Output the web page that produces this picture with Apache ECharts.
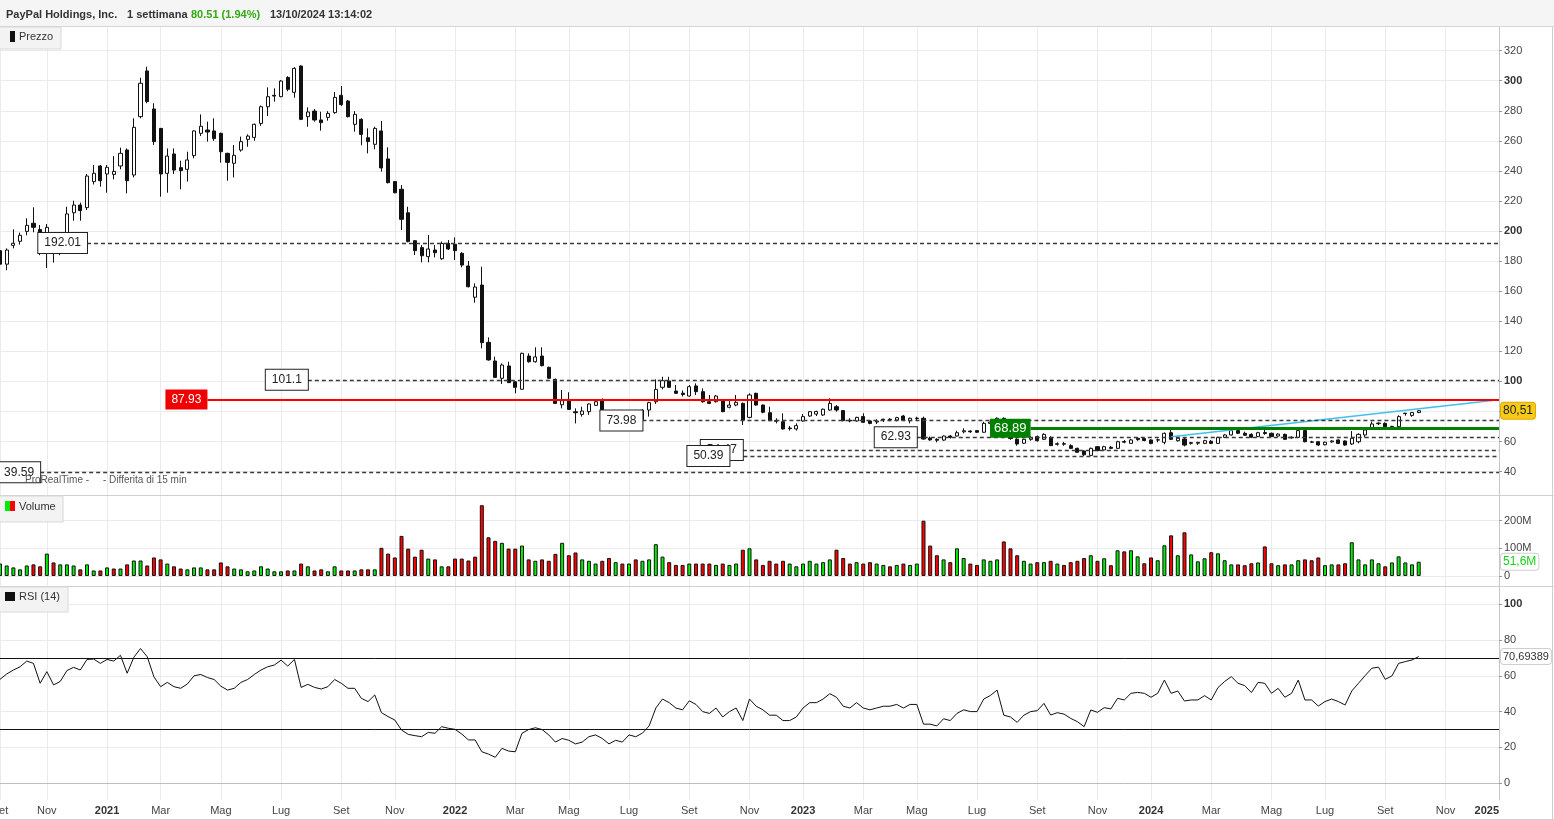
<!DOCTYPE html>
<html><head><meta charset="utf-8">
<script src="https://cdn.jsdelivr.net/npm/echarts@6/dist/echarts.min.js"></script>
<style>html,body{margin:0;padding:0;background:#fff}#c{width:1554px;height:820px}</style>
</head><body><div id="c"></div>
<script>
// ---------- DATA ----------
const firstWeek = '2020-09-14';   // first weekly bar (Monday)
const weekCount = 225;            // weekly slots on the axis (to 30 Dec 2024)

// weekly candles [open, close, low, high]
const candles = [
// 2020 (idx 0-15)
[187,178,176,190],[178,187.4,174,188.5],[190.5,191.9,188.5,201.2],[193.2,197.2,191,199],[199.8,203.8,197.2,208.5],
[205.2,202.5,199.2,215.8],[201,186.1,184,204],[188,202.5,175.5,204.7],[197,186.5,179,198],[187,192,184,195],
[193,211.4,192,216.2],[212.2,217.3,206.9,220.2],[217.3,213.6,206.9,218.9],[215.6,236.6,214,238],[232.9,238.4,231,243.9],
[243.3,233.5,229.5,244],
// 2021 (idx 16-67)
[238,242.4,225.5,243.9],[237.7,239.7,234.4,249.9],[243.3,251.7,241.1,255.5],[253.9,233.5,225.1,255],
[237.3,269,235.7,275],[276.1,298.3,275,302],[306.5,286.1,285,309.3],[281.2,259.5,257.3,285],
[268.3,238,222.9,268.5],[238.4,249.9,225.5,255],[251.3,240.6,238,255],[242.2,240.2,227.8,246.8],[241.1,247.3,232.9,252.8],
[250.2,266.6,248.4,267],[265,269.7,263.2,277.6],[267.2,265.9,259.5,272.8],[266.6,261.5,260,275],
[265,252.8,245.5,265.5],[251.7,245.7,233.5,252.1],[245.1,250.4,235.7,257.2],[253.9,259.5,252.8,262.8],
[261,263.2,256.1,264.3],[262.3,271,260.1,271.5],[271.6,282.7,270,283.5],[282.7,289.4,276.5,295.6],[290.3,289.8,286.1,294.9],
[289.4,299.8,289,300.5],[302.2,294.3,293,303],[292.3,308.2,288.7,309],[309.8,274.3,273.8,310.2],
[276.1,279.2,269.4,282.3],[279.8,273.9,272.8,281.2],[273.9,272.1,266.8,279.4],[275.6,278.3,273.4,279.8],
[278.8,288.9,278,292.5],[290.3,284.1,283.2,296.5],[286.5,276.1,275.6,287.2],[271,277.6,266.1,279.8],[274.3,264.3,257,275],
[262.1,259.5,251.7,268.3],[257.7,268.3,254.4,269.4],[266.6,242,239.5,273.2],[248,232.2,231.7,255.7],
[232.9,225.5,225.1,233.3],[227.8,207.8,200.7,230.6],[212.2,193,192.5,216.2],[193.6,187,184.1,194],
[189,183.6,179.2,190.7],[183,188.1,179.2,197.4],[187.4,185.6,182.5,190.7],[181.6,191.8,180.8,193],[191.8,188.1,187.4,194],
// 2022 (idx 68-119)
[191.2,187,180.8,195.8],[185.2,177.4,175.9,186],[176.8,163,162.5,180.1],[156,162.8,152.4,165.2],
[164.1,125.8,122,176.3],[126,114.3,113.8,129.3],[113.6,102.7,102.5,116.5],[102.1,110.9,98.3,112],
[110.3,99.2,99,113.1],[99.8,96.1,92.1,100],[94.8,118.7,94.5,119.1],[116.9,113.1,112.5,118.7],[113.1,116.3,112.5,122.7],
[116.9,110.5,110,122.7],[109.4,102.1,101.8,109.8],[101.4,85.4,85,101.9],[84.5,87.2,82.1,94.3],
[87.2,81.4,81,92.8],[79.8,79.2,72.1,82.1],[78.1,80.3,76.6,83.2],[79.9,85,77.7,85.3],[84.1,86.5,83.7,87.2],
[87.2,78.8,78.5,88.7],[78.8,72,70,79.8],[72,75.5,70.5,77],[75.5,71.3,69.5,77],
[71.3,77.3,70.5,78.5],[77.3,74.5,73,79],[80.8,74.8,74,81.5],[81,85.9,76.6,86.5],
[86.5,94.7,85,101.4],[96.1,100.5,94.7,103.1],[100.3,96.1,95.8,103.1],[93.6,92.1,91.8,97.6],[92.2,91.3,90,94],
[90.3,96.5,89.9,97.6],[97,93.2,91,98.7],[93.2,86.5,85.9,95.4],[86.5,85.4,84.9,91],
[86.5,90.3,86,91],[87.7,79.9,79.5,88],[82.8,84.3,82.1,87],[84.3,86.1,83.5,91],
[85.4,74.3,71,86],[76.1,91,75.5,92.1],[92.1,84.3,83.9,92.5],[84.3,79.5,78.8,84.6],
[79.2,73.9,73.6,83.2],[74,73.5,72.1,75.5],[73.2,68.4,68,78.8],[69,68.6,67.3,70.4],[68.4,70.6,67.3,72.1],
// 2023 (idx 120-171)
[73.7,76.6,73.2,78.3],[77,79.9,76.6,80.3],[78.3,80,77,80.5],[77.7,81.5,77,82],
[81,85.4,80.5,88.8],[83.2,81,79.9,84.3],[80.6,73.9,73.5,81],[74.2,73.7,72.8,75.5],
[73.7,76.1,73.2,76.5],[76.6,72.8,72.5,78.8],[73.7,72.1,71.5,74.2],[73,73.6,71.7,74.8],
[74.5,74.9,73,75.2],[74.9,74.6,73.5,75.5],[74.3,75.9,73.5,76.5],[77,74.3,73.9,77.7],[73.9,75.5,72.1,76],
[75.3,75.6,74,76.5],[75.5,61.7,61.2,76.6],[62.3,61.1,60.6,63.3],[61.5,60.9,59.5,62.2],
[61,63.7,60.5,64],[63.7,62.8,62,64.3],[63.7,65.9,63.3,67.2],[66.5,67.2,65.5,68.8],
[67,66.5,65.8,67.5],[67.3,66.2,65.8,67.5],[66.2,72.1,65.8,73.2],[72.1,73,71,74],[73,75.5,72.5,76.1],
[75.5,63.5,62.8,76],[63.5,62,61.2,64.5],[61.5,58.4,57.3,62.2],[58.9,61.5,58.5,62],
[61.5,62.5,60.5,63.5],[63.3,60.6,60,64],[61.5,64.8,61,65.5],[62.8,57.3,57,63.5],
[58.2,58.6,57.3,59.5],[58.6,58.3,57.2,59.8],[57.3,55.5,55,58.2],[55.5,52.9,52.5,56],[53.7,51.2,50.39,54.2],
[50.8,55.5,50.6,56],[56.6,54,53.6,57],[54.4,56.6,54,57.2],[56.2,55.5,55,57],
[55.5,59.9,55.2,60.5],[60,59.6,58.9,61],[58.8,61.1,58.5,61.8],[62.2,61.3,60.5,62.8],[62,60.7,60.2,62.5],
// 2024 (idx 172-212)
[61.1,58.8,58.2,61.5],[61,61.2,59.5,62],[59.5,65.5,58.2,66],[65.9,61.5,61,68.5],
[60.6,62.2,60,63],[61.7,57.7,56.8,62.5],[58.8,59.3,58,59.8],[58.9,59.5,57.8,59.8],
[58.8,60.6,58.3,61.2],[60.2,58.8,58.3,61],[58.8,62.8,58.5,63.3],[62.8,64.4,62.3,65],[64.4,67.3,64,67.8],
[67.3,65.5,65,68],[65.5,64.2,63.8,66.6],[64.8,62.9,62.3,65.5],[63.3,65.9,63,66.5],
[66,65.4,64.5,69.9],[65.5,63.3,63,66],[63.7,65,63.3,65.5],[64.8,61.5,61,65.3],
[62.5,62.9,61.8,63.5],[62.8,67.3,62.5,68],[67.3,59.9,59.5,67.8],[59.8,59.6,59,60.5],[59.9,57.7,57.2,60.2],
[57.9,59.6,57.5,60],[59.8,60.4,59.2,60.9],[61.1,58.8,58.3,61.5],[60.4,57.7,57.2,60.8],
[58.4,62.2,57.7,67],[59.9,64.8,58.8,65.5],[64.4,67.7,62.7,68.2],[69.3,71.7,69,73.3],[71.9,72.3,71,72.8],
[72.1,69.9,69.5,72.8],[70,70.1,67.7,70.5],[69.9,76.6,69.5,77.5],[78.6,78.9,77.2,79],[77.4,79.3,76.5,79.5],
[79.3,80.51,78.9,81]
];

// weekly volume, millions
const volumes = [
45,38,31,24,38,42,35,81,49,42,42,38,24,42,20,20,
31,27,27,42,56,56,38,67,60,45,35,27,24,31,31,24,24,49,35,27,24,17,20,35,27,17,17,20,20,45,35,20,24,17,35,20,20,20,24,24,24,102,81,67,145,99,70,95,63,60,35,35,
63,63,56,70,256,140,127,120,99,99,110,60,55,60,55,80,120,75,85,60,55,45,55,65,50,45,45,60,55,60,115,70,50,40,40,45,45,45,45,40,45,40,45,95,100,60,40,55,45,55,45,35,
45,55,45,50,60,95,65,45,50,45,50,45,40,35,40,45,40,45,200,110,75,60,50,100,65,45,40,60,55,60,125,100,75,55,45,50,50,55,45,40,50,55,65,75,55,64,39,93,89,93,71,46,
67,57,111,147,75,158,78,53,64,86,82,57,42,42,39,46,49,107,46,39,42,42,57,60,57,67,39,42,42,46,122,60,42,60,46,35,49,71,49,42,51.6
];

// RSI (14)
const rsi = [
58.0,61.0,63.2,65.0,68.2,66.9,55.8,62.3,54.9,56.8,62.9,64.7,63.2,69.1,69.3,66.9,
69.1,68.2,71.4,61.4,70.3,75.2,70.6,59.4,53.9,56.3,53.9,53.0,55.4,60.0,60.7,59.0,57.9,54.2,52.0,53.0,56.3,57.9,60.7,63.2,65.0,66.0,68.7,65.4,69.1,53.5,55.2,53.5,52.6,53.9,57.9,55.8,53.0,53.0,47.4,45.6,49.3,39.4,37.2,35.3,29.7,27.3,26.6,26.0,28.4,27.9,31.6,30.7,
30.1,27.5,24.2,24.2,17.6,16.3,14.5,19.5,18.0,17.6,27.9,30,31,30,27,23,25,24,22,23,26,27,25,22,24,23,27,26,28,32,42,47,45,42,41,46,44,40,39,42,37,40,42,35,47,43,41,38,38,35,35,37,
42,45,45,47,50,48,43,42,45,42,41,42,43,43,44,42,44,44,33,33,32,36,35,39,41,40,40,47,49,52,38,37,34,38,40,40.5,44.6,38.1,39.4,38.6,36.2,34.4,31.6,40.9,39.6,42.2,41.5,47.4,46.5,50.2,50.7,50.2,
48.0,50.2,57.6,50.2,51.5,45.9,46.5,46.5,48.9,46.5,53.4,56.8,59.5,55.8,54.5,50.6,56.3,55.8,50.2,53.0,48.0,50.2,57.6,46.5,46.5,43.1,45.6,47.0,45.6,43.7,51.5,55.8,60.1,64.2,64.8,58.0,59.9,66.9,67.9,68.8,70.69389
];

// x-axis tick labels (first weekly bar of every other month)
const xTickLabels = [
['2020-09-14','Set'],['2020-11-02','Nov'],['2021-01-04','2021'],['2021-03-01','Mar'],['2021-05-03','Mag'],['2021-07-05','Lug'],
['2021-09-06','Set'],['2021-11-01','Nov'],['2022-01-03','2022'],['2022-03-07','Mar'],['2022-05-02','Mag'],['2022-07-04','Lug'],
['2022-09-05','Set'],['2022-11-07','Nov'],['2023-01-02','2023'],['2023-03-06','Mar'],['2023-05-01','Mag'],['2023-07-03','Lug'],
['2023-09-04','Set'],['2023-11-06','Nov'],['2024-01-01','2024'],['2024-03-04','Mar'],['2024-05-06','Mag'],['2024-07-01','Lug'],
['2024-09-02','Set'],['2024-11-04','Nov'],['2024-12-30','2025']
];
const priceTicks = [40,60,80,100,120,140,160,180,200,220,240,260,280,300,320];
const volumeTicks = [0,100,200];
const rsiTicks = [0,20,40,60,80,100];

// horizontal levels drawn on the price panel [value, first week]
const dashedLevels = [[192.01,'2020-12-14'],[101.1,'2021-08-02'],[73.98,'2022-07-18'],[62.93,'2023-05-01'],[54.47,'2022-10-31'],[50.39,'2022-10-17'],[39.59,'2020-10-26']];
const resistanceLevel = [87.93,'2021-04-19'];
const supportLevel = [68.89,'2023-08-28'];
const trendLine = [['2024-01-22',63.2],['2024-12-23',87.4]];
const rsiBands = [70,30];

// ---------- BUILD ----------
const categories = [];
(function(){ const p = firstWeek.split('-').map(Number); const d = new Date(Date.UTC(p[0],p[1]-1,p[2]));
  for (let i=0;i<weekCount;i++){ categories.push(d.toISOString().slice(0,10)); d.setUTCDate(d.getUTCDate()+7);} })();
const lastCat = categories[categories.length-1];
const tickMap = {}; xTickLabels.forEach(t => tickMap[t[0]] = t[1]);
const isTick = (idx, val) => tickMap[val] !== undefined;

const FONT = '"Liberation Sans", Arial, sans-serif';
const lastClose = candles[candles.length-1][1];
const lastVol = volumes[volumes.length-1];
const lastRsi = rsi[rsi.length-1];
const comma = v => String(v).replace('.', ',');

const levelMarks = dashedLevels.map(l => [
  {coord:[l[1], l[0]], lineStyle:{color:'#3a3a3a', width:1.4, type:[4,3]},
   label:{show:true, position:'start', distance:0, formatter:String(l[0]), color:'#222', fontSize:12,
          backgroundColor:'#fff', borderColor:'#222', borderWidth:1, padding:[4,6]}},
  {coord:[lastCat, l[0]]}
]);
const redMark = [
  {coord:[resistanceLevel[1], resistanceLevel[0]], lineStyle:{color:'#ff0000', width:2, type:'solid'},
   label:{show:true, position:'start', distance:0, formatter:String(resistanceLevel[0]), color:'#fff', fontSize:12,
          backgroundColor:'#f00000', padding:[4,6]}},
  {coord:[lastCat, resistanceLevel[0]]}
];
const greenMark = [
  {coord:[supportLevel[1], supportLevel[0]], lineStyle:{color:'#008000', width:3, type:'solid'},
   label:{show:true, position:'start', distance:0, formatter:String(supportLevel[0]), color:'#fff', fontSize:13,
          backgroundColor:'#008000', padding:[3,4]}},
  {coord:[lastCat, supportLevel[0]]}
];
const hidden = {color:'rgba(0,0,0,0)', width:0};
const tagLabel = (txt, color, bg, border, fs) => ({show:true, position:'end', distance:2, formatter:txt, color:color, fontSize:fs || 12,
  backgroundColor:bg, borderColor:border, borderWidth:1, borderRadius:3, padding:[2,2]});

const volData = volumes.map((v,i) => ({value:v, itemStyle:{color:(i===0 || candles[i][1] >= candles[i-1][1]) ? '#00ee00' : '#ff0000'}}));

const xAxes = [0,1,2].map(i => ({
  type:'category', gridIndex:i, data:categories, boundaryGap:false,
  axisLine:{show:i===2, lineStyle:{color:'#bdbdbd'}},
  axisTick:{show:false},
  axisLabel: i===2 ? {show:true, interval:isTick, margin:5, color:'#444', fontSize:11, alignMaxLabel:'right',
      formatter:(v) => { const t = tickMap[v]; if (t === undefined) return ''; return /^\d{4}$/.test(t) ? '{y|'+t+'}' : '{m|'+t+'}'; },
      rich:{y:{fontWeight:'bold', color:'#333', fontSize:11, fontFamily:FONT}, m:{color:'#444', fontSize:11, fontFamily:FONT}}}
    : {show:false},
  splitLine:{show:true, interval:isTick, lineStyle:{color:'#ebebeb', width:1}}
}));

const yBase = (grid, min, max, ticks, fmt) => ({
  type:'value', gridIndex:grid, position:'right', min:min, max:max, scale:false,
  axisLine:{show:true, onZero:false, lineStyle:{color:'#c6c6c6'}},
  axisTick:{show:true, length:3, customValues:ticks, lineStyle:{color:'#999'}},
  axisLabel:{show:true, customValues:ticks, margin:5, color:'#444', fontSize:11, formatter:fmt,
     rich:{b:{fontWeight:'bold', color:'#333', fontSize:11, fontFamily:FONT}, n:{color:'#444', fontSize:11, fontFamily:FONT}}},
  splitLine:{show:true, lineStyle:{color:'#ebebeb', width:1}}
});

const gridBase = {left:0, right:55, containLabel:false, outerBoundsMode:'none'};
const option = {
  animation:false,
  backgroundColor:'#ffffff',
  textStyle:{fontFamily:FONT},
  grid:[
    Object.assign({top:27, height:468}, gridBase),
    Object.assign({top:496, height:90}, gridBase),
    Object.assign({top:587, height:213}, gridBase)
  ],
  xAxis:xAxes,
  yAxis:[
    yBase(0, 24.47, 335.73, priceTicks, v => v % 100 === 0 ? '{b|'+v+'}' : '{n|'+v+'}'),
    yBase(1, -36.2, 289.3, volumeTicks, v => '{n|' + (v === 0 ? '0' : v + 'M') + '}'),
    yBase(2, -9.3, 109.5, rsiTicks, v => v === 100 ? '{b|'+v+'}' : '{n|'+v+'}')
  ],
  series:[
    {type:'candlestick', name:'Prezzo', xAxisIndex:0, yAxisIndex:0, data:candles, barWidth:3.6, clip:false,
     itemStyle:{color:'#ffffff', color0:'#111111', borderColor:'#111111', borderColor0:'#111111', borderWidth:1},
     markLine:{symbol:['none','none'], silent:true, animation:false, label:{show:false},
       data:[...levelMarks, redMark, greenMark,
             {yAxis:lastClose, lineStyle:hidden, label:tagLabel(comma(lastClose.toFixed(2)), '#222', '#f7ca18', '#e0a800', 12)}]}},
    {type:'line', name:'Trend', xAxisIndex:0, yAxisIndex:0, data:trendLine, symbol:'none', clip:false,
     lineStyle:{color:'#3fc0f0', width:1.5}, z:3},
    {type:'bar', name:'Volume', xAxisIndex:1, yAxisIndex:1, data:volData, barWidth:4, clip:false,
     itemStyle:{borderColor:'#111', borderWidth:1},
     markLine:{symbol:['none','none'], silent:true, animation:false, label:{show:false},
       data:[{yAxis:lastVol, lineStyle:hidden, label:tagLabel(comma(lastVol)+'M', '#16d316', '#fff', '#cfcfcf', 12)}]}},
    {type:'line', name:'RSI (14)', xAxisIndex:2, yAxisIndex:2, data:rsi, symbol:'none', clip:false,
     lineStyle:{color:'#111', width:1},
     markLine:{symbol:['none','none'], silent:true, animation:false, label:{show:false},
       data:[...rsiBands.map(b => ({yAxis:b, lineStyle:{color:'#111', width:1, type:'solid'}})),
             {yAxis:lastRsi, lineStyle:hidden, label:tagLabel(comma(lastRsi), '#333', '#fff', '#cfcfcf', 11)}]}}
  ],
  graphic:{elements:[
    // header
    {type:'rect', shape:{x:0,y:0,width:1554,height:26}, style:{fill:'#f5f5f5'}, z:100, silent:true},
    {type:'line', shape:{x1:0,y1:26.5,x2:1554,y2:26.5}, style:{stroke:'#d6d6d6', lineWidth:1}, z:101, silent:true},
    {type:'text', x:6, y:15, style:{text:'PayPal Holdings, Inc.', font:'bold 11px '+FONT, fill:'#333', verticalAlign:'middle'}, z:102},
    {type:'text', x:127, y:15, style:{text:'1 settimana', font:'bold 11px '+FONT, fill:'#333', verticalAlign:'middle'}, z:102},
    {type:'text', x:191, y:15, style:{text:'80.51 (1.94%)', font:'bold 11px '+FONT, fill:'#33aa11', verticalAlign:'middle'}, z:102},
    {type:'text', x:270, y:15, style:{text:'13/10/2024 13:14:02', font:'bold 11px '+FONT, fill:'#333', verticalAlign:'middle'}, z:102},
    // panel separators and frame
    {type:'line', shape:{x1:0,y1:495.5,x2:1554,y2:495.5}, style:{stroke:'#d0d0d0', lineWidth:1}, z:90, silent:true},
    {type:'line', shape:{x1:0,y1:586.5,x2:1554,y2:586.5}, style:{stroke:'#d0d0d0', lineWidth:1}, z:90, silent:true},
    {type:'line', shape:{x1:0,y1:819.5,x2:1554,y2:819.5}, style:{stroke:'#d0d0d0', lineWidth:1}, z:90, silent:true},
    {type:'line', shape:{x1:1552.5,y1:0,x2:1552.5,y2:820}, style:{stroke:'#d0d0d0', lineWidth:1}, z:90, silent:true},
    // tabs
    {type:'rect', shape:{x:-1,y:27,width:62,height:22}, style:{fill:'#f3f3f3', stroke:'#d8d8d8', lineWidth:1}, z:100, silent:true},
    {type:'rect', shape:{x:10,y:31,width:5,height:11}, style:{fill:'#111'}, z:101, silent:true},
    {type:'text', x:19, y:37, style:{text:'Prezzo', font:'11px '+FONT, fill:'#333', verticalAlign:'middle'}, z:102},
    {type:'rect', shape:{x:-1,y:496,width:64,height:26}, style:{fill:'#f3f3f3', stroke:'#d8d8d8', lineWidth:1}, z:100, silent:true},
    {type:'rect', shape:{x:5,y:501,width:5,height:10}, style:{fill:'#00ee00'}, z:101, silent:true},
    {type:'rect', shape:{x:10,y:501,width:5,height:10}, style:{fill:'#ff0000'}, z:101, silent:true},
    {type:'text', x:19, y:507, style:{text:'Volume', font:'11px '+FONT, fill:'#333', verticalAlign:'middle'}, z:102},
    {type:'rect', shape:{x:-1,y:587,width:69,height:25}, style:{fill:'#f3f3f3', stroke:'#d8d8d8', lineWidth:1}, z:100, silent:true},
    {type:'rect', shape:{x:5,y:592,width:10,height:9}, style:{fill:'#111'}, z:101, silent:true},
    {type:'text', x:19, y:597, style:{text:'RSI (14)', font:'11px '+FONT, fill:'#333', verticalAlign:'middle'}, z:102},
    // watermark
    {type:'text', x:25, y:480, style:{text:'ProRealTime -', font:'10px '+FONT, fill:'#555', verticalAlign:'middle'}, z:60},
    {type:'text', x:103, y:480, style:{text:'- Differita di 15 min', font:'10px '+FONT, fill:'#555', verticalAlign:'middle'}, z:60}
  ]}
};
const chart = echarts.init(document.getElementById('c'), null, {renderer:'canvas', width:1554, height:820});
chart.setOption(option);
</script>
</body></html>
